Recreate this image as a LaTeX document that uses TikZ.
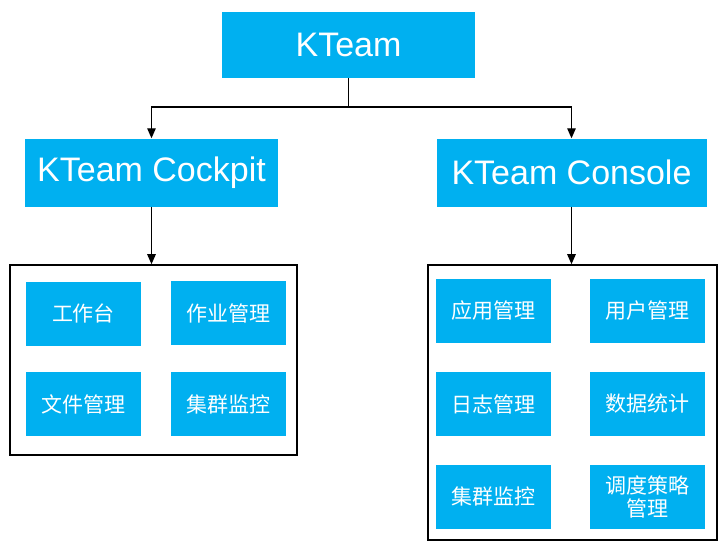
\documentclass[tikz,border=0pt]{standalone}
\usepackage{fontspec}
\setmainfont{Liberation Sans}
\newfontfamily\cjk{Noto Sans CJK SC}
\usepackage{tikz}
\usetikzlibrary{arrows.meta}
\definecolor{kblue}{HTML}{00B0F0}
\tikzset{
  head/.style={fill=kblue, text=white, inner sep=0pt, minimum height=68pt,
    font=\fontsize{34}{40}\selectfont},
  item/.style={fill=kblue, text=white, inner sep=0pt, minimum width=115pt,
    minimum height=64pt, align=center, font=\cjk\fontsize{21}{24}\selectfont},
  frame/.style={draw=black, line width=1.6pt, inner sep=0pt},
  >={Triangle[length=10pt,width=8.5pt]}
}
\begin{document}
\begin{tikzpicture}[x=1pt,y=-1pt]
			\useasboundingbox (0,0) rectangle (726,551);
			% top level
			\node[head, minimum width=253pt, minimum height=66pt] (kteam) at (348.5,45) {KTeam};
			\node[head, minimum width=253pt] (cockpit) at (151.5,172.5) {KTeam Cockpit};
			\node[head, minimum width=270pt] (console) at (571.5,172.5) {KTeam Console};
			\coordinate (split) at (348.5,107);
			\draw[line width=1.2pt] (kteam) -- (split);
			\draw[->, line width=1.2pt] (split) -| (cockpit);
			\draw[->, line width=1.2pt] (split) -| (console);
			% cockpit
			\node[frame, minimum width=287pt, minimum height=190pt] (leftframe) at (153.5,360) {};
			\node[item] (desk) at (83.5,313.5) {工作台};
			\node[item] (jobs) at (228,313) {作业管理};
			\node[item] (files) at (83.5,404) {文件管理};
			\node[item] (clusterA) at (228,404) {集群监控};
			\draw[->, line width=1.2pt] (cockpit) -- (cockpit.south |- leftframe.north);
			% console
			\node[frame, minimum width=289pt, minimum height=275pt] (rightframe) at (572.5,402.5) {};
			\node[item] (apps) at (493.5,310.5) {应用管理};
			\node[item] (users) at (647.5,310.5) {用户管理};
			\node[item] (logs) at (493.5,404) {日志管理};
			\node[item] (stats) at (647.5,404) {数据统计};
			\node[item] (clusterB) at (493.5,496.5) {集群监控};
			\node[item, font=\cjk\fontsize{21}{23}\selectfont] (policy) at (647.5,496.5) {调度策略\\管理};
			\draw[->, line width=1.2pt] (console) -- (console.south |- rightframe.north);
		\end{tikzpicture}
\end{document}
